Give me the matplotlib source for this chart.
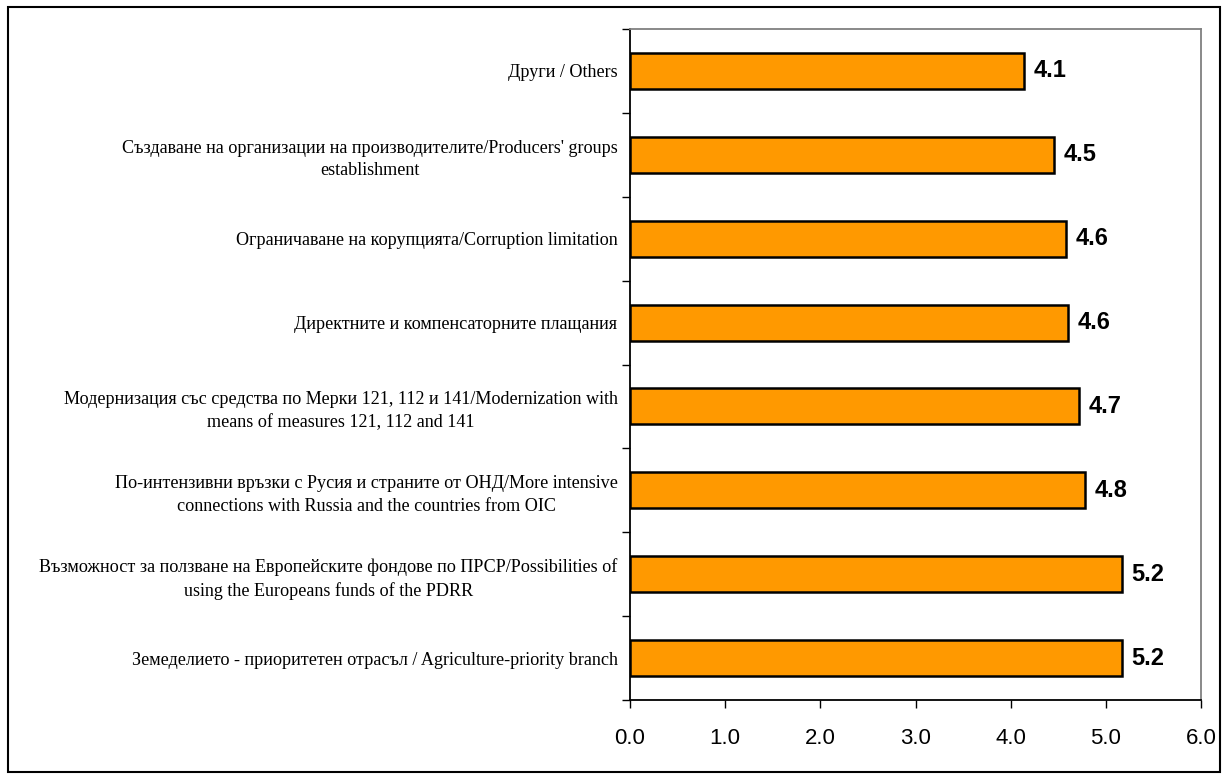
"""Горизонтална лентова диаграма: оценки на факторите (отгоре надолу)."""
import matplotlib
matplotlib.use("Agg")
import matplotlib.pyplot as plt
from matplotlib.patches import Rectangle

# категории отгоре надолу
categories = [
    "Други / Others",
    "Създаване на организации на производителите/Producers' groups\nestablishment",
    "Ограничаване на корупцията/Corruption limitation",
    "Директните и компенсаторните плащания",
    "Модернизация със средства по Мерки 121, 112 и 141/Modernization with\nmeans of measures 121, 112 and 141",
    "По-интензивни връзки с Русия и страните от ОНД/More intensive\nconnections with Russia and the countries from OIC",
    "Възможност за ползване на Европейските фондове по ПРСР/Possibilities of\nusing the Europeans funds of the PDRR",
    "Земеделието - приоритетен отрасъл / Agriculture-priority branch",
]
values = [4.14, 4.46, 4.58, 4.60, 4.72, 4.78, 5.17, 5.17]
value_labels = ["4.1", "4.5", "4.6", "4.6", "4.7", "4.8", "5.2", "5.2"]
xticks = [0, 1, 2, 3, 4, 5, 6]

W, H = 1228, 780
fig = plt.figure(figsize=(W / 100, H / 100), dpi=100)
ax = fig.add_axes([630 / W, 1 - 700 / H, 571 / W, 671 / H])

n = len(categories)
ypos = list(range(n))
ax.barh(ypos, values, height=0.43, color="#FF9900", edgecolor="black",
        linewidth=1.8, zorder=3)
for y, v, lab in zip(ypos, values, value_labels):
    ax.text(v + 0.1, y, lab, ha="left", va="center", fontsize=17,
            fontweight="bold", family="Liberation Sans")

ax.set_ylim(n - 0.5, -0.5)
ax.set_xlim(0, 6)
ax.set_xticks(xticks)
ax.set_xticklabels([f"{t:.1f}" for t in xticks], family="Liberation Sans",
                   fontsize=16)
ax.tick_params(axis="x", direction="out", length=6, width=1, pad=14)

# тикове по y на границите на категориите, етикетите - в центъра
ax.set_yticks([i - 0.5 for i in range(n + 1)])
ax.set_yticklabels([])
ax.tick_params(axis="y", direction="out", length=6, width=1)
ax.set_yticks(ypos, minor=True)
ax.set_yticklabels(categories, minor=True, family="Liberation Serif",
                   fontsize=13.1, multialignment="center", linespacing=1.4)
ax.tick_params(axis="y", which="minor", length=0, pad=9)

ax.spines["left"].set_color("black")
ax.spines["bottom"].set_color("black")
ax.spines["top"].set_color("#808080")
ax.spines["right"].set_color("#808080")
for s in ax.spines.values():
    s.set_linewidth(1.3)

# рамка около цялата фигура
fig.patches.append(Rectangle((8 / W, 8 / H), 1212 / W, 765 / H,
                             transform=fig.transFigure, fill=False,
                             edgecolor="black", linewidth=1.5))

fig.savefig("out.png", dpi=100)
